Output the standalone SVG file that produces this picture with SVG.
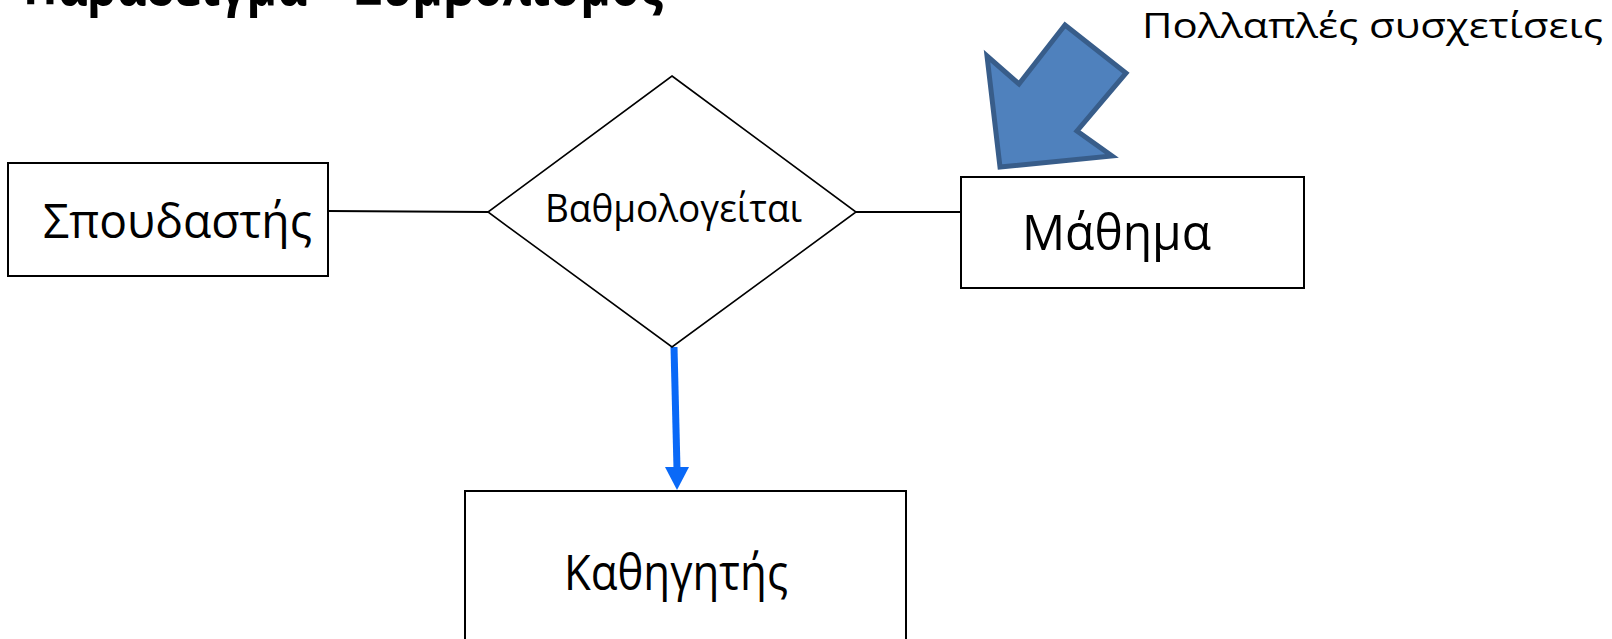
<svg xmlns="http://www.w3.org/2000/svg" width="1612" height="639" viewBox="0 0 1612 639">
<style>
.box{fill:#fff;stroke:#000;stroke-width:2}
.dia{fill:#fff;stroke:#000;stroke-width:1.6}
.lbl{font-family:"Open Sans","Noto Sans","DejaVu Sans",sans-serif;fill:#000}
.conn{stroke:#000;stroke-width:2;fill:none}
</style>
<rect width="1612" height="639" fill="#fff"/>
<text class="lbl" x="23" y="5" font-size="54" font-weight="bold" textLength="640" lengthAdjust="spacingAndGlyphs">Παράδειγμα – Συμβολισμός</text>
<g id="connectors">
<line class="conn" x1="328" y1="211" x2="488" y2="212"/>
<line class="conn" x1="856" y1="212" x2="961" y2="212"/>
<line x1="674" y1="347" x2="677" y2="469" stroke="#0A69F7" stroke-width="7"/>
<polygon points="665,467 689,467 677,490" fill="#0A69F7"/>
</g>
<g id="spoudastis">
<rect class="box" x="8" y="163" width="320" height="113"/>
<text class="lbl" x="43" y="238" font-size="48" textLength="269" lengthAdjust="spacingAndGlyphs">Σπουδαστής</text>
</g>
<g id="vathmologeitai">
<polygon class="dia" points="672,76 856,212 672,347 488,212"/>
<text class="lbl" x="545" y="222" font-size="38" textLength="257" lengthAdjust="spacingAndGlyphs">Βαθμολογείται</text>
</g>
<g id="mathima">
<rect class="box" x="961" y="177" width="343" height="111"/>
<text class="lbl" x="1022" y="250" font-size="49" textLength="189" lengthAdjust="spacingAndGlyphs">Μάθημα</text>
</g>
<g id="kathigitis">
<rect class="box" x="465" y="491" width="441" height="170"/>
<text class="lbl" x="564" y="590" font-size="49" textLength="224" lengthAdjust="spacingAndGlyphs">Καθηγητής</text>
</g>
<g id="polles">
<polygon points="1000,167 987,56 1019,84 1065,25 1126,73 1077,131 1112,156" fill="#4F81BD" stroke="#385D8A" stroke-width="5" stroke-linejoin="miter"/>
<text class="lbl" x="1142" y="38" font-size="35" textLength="461" lengthAdjust="spacingAndGlyphs">Πολλαπλές συσχετίσεις</text>
</g>
</svg>
